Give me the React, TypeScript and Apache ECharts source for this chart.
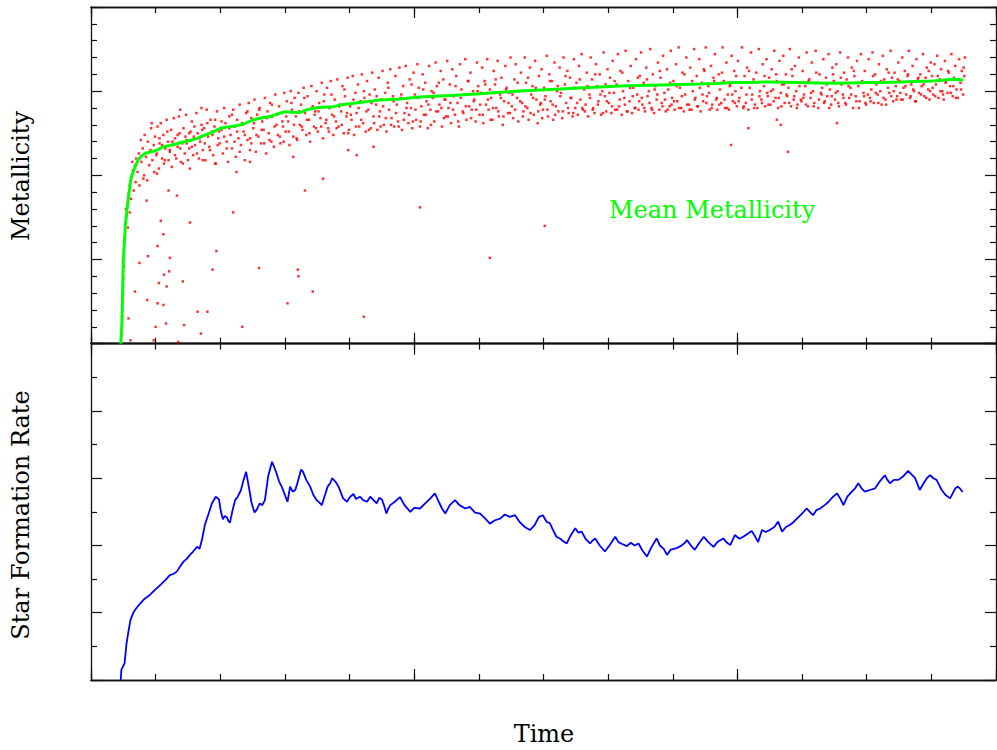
import React, { useEffect, useRef } from "react";
import * as echarts from "echarts";

// ---- data (time units 0..14, metallicity units 0..20, SFR units 0..10) ----
const meanMetallicity: [number, number][] = [[0.46,0],[0.48,1.4],[0.49,3.2],[0.5,5.0],[0.52,6.2],[0.53,7.0],[0.56,8.05],[0.59,9.0],[0.62,9.85],[0.68,10.5],[0.73,10.9],[0.78,11.15],[0.85,11.33],[0.94,11.4],[1.02,11.5],[1.12,11.7],[1.22,11.78],[1.3,11.85],[1.38,11.94],[1.5,12.04],[1.64,12.2],[1.73,12.34],[1.84,12.5],[1.92,12.64],[2.0,12.8],[2.12,12.88],[2.25,12.94],[2.38,13.08],[2.51,13.3],[2.63,13.41],[2.77,13.49],[2.88,13.65],[3.0,13.78],[3.11,13.75],[3.23,13.73],[3.33,13.89],[3.44,13.99],[3.59,14.05],[3.75,14.08],[3.85,14.17],[3.96,14.24],[4.1,14.3],[4.27,14.38],[4.47,14.48],[4.78,14.54],[5.09,14.66],[5.4,14.72],[5.71,14.78],[6.02,14.84],[6.33,14.93],[6.64,15.01],[6.95,15.07],[7.26,15.13],[7.56,15.19],[7.87,15.25],[8.18,15.31],[8.49,15.34],[8.8,15.37],[9.1,15.4],[9.42,15.43],[9.67,15.46],[9.93,15.51],[10.19,15.52],[10.45,15.55],[10.71,15.53],[10.97,15.51],[11.23,15.49],[11.48,15.47],[11.74,15.49],[12.0,15.51],[12.25,15.52],[12.52,15.55],[12.76,15.58],[13.03,15.61],[13.21,15.67],[13.34,15.71],[13.41,15.7],[13.49,15.67]];

const starFormationRate: [number, number][] = [[0.46,0.0],[0.47,0.3],[0.52,0.5],[0.55,1.09],[0.58,1.45],[0.61,1.78],[0.65,1.98],[0.68,2.08],[0.72,2.18],[0.76,2.27],[0.82,2.4],[0.91,2.53],[0.99,2.68],[1.07,2.82],[1.15,2.97],[1.22,3.12],[1.28,3.16],[1.33,3.23],[1.38,3.38],[1.43,3.52],[1.48,3.6],[1.53,3.72],[1.58,3.82],[1.64,3.96],[1.68,3.9],[1.72,4.2],[1.76,4.6],[1.82,4.95],[1.87,5.25],[1.93,5.45],[1.98,5.37],[2.01,5.0],[2.04,4.78],[2.07,4.88],[2.1,4.84],[2.13,4.72],[2.15,4.68],[2.19,5.05],[2.23,5.35],[2.27,5.45],[2.32,5.65],[2.36,5.95],[2.4,6.19],[2.45,5.65],[2.48,5.3],[2.51,5.1],[2.53,4.98],[2.56,5.05],[2.61,5.25],[2.65,5.2],[2.69,5.35],[2.74,6.05],[2.8,6.49],[2.83,6.35],[2.87,6.15],[2.91,5.9],[2.95,5.75],[3.0,5.5],[3.04,5.3],[3.08,5.75],[3.12,5.6],[3.16,5.65],[3.2,5.9],[3.25,6.26],[3.28,6.19],[3.33,5.95],[3.39,5.75],[3.44,5.5],[3.49,5.35],[3.53,5.28],[3.57,5.2],[3.62,5.5],[3.66,5.75],[3.7,5.85],[3.73,6.0],[3.78,5.9],[3.83,5.75],[3.87,5.55],[3.9,5.4],[3.96,5.3],[4.01,5.45],[4.06,5.53],[4.1,5.38],[4.16,5.45],[4.21,5.35],[4.27,5.3],[4.32,5.45],[4.37,5.35],[4.42,5.25],[4.46,5.42],[4.5,5.37],[4.54,5.15],[4.57,4.95],[4.6,5.1],[4.63,5.2],[4.7,5.3],[4.78,5.44],[4.85,5.2],[4.94,5.0],[5.0,5.12],[5.09,5.1],[5.17,5.25],[5.25,5.4],[5.32,5.55],[5.38,5.3],[5.43,5.1],[5.48,4.95],[5.55,5.2],[5.63,5.35],[5.7,5.2],[5.79,5.1],[5.86,5.15],[5.94,4.98],[6.02,4.95],[6.1,4.8],[6.17,4.65],[6.25,4.75],[6.33,4.8],[6.4,4.92],[6.48,4.85],[6.56,4.9],[6.63,4.7],[6.71,4.55],[6.79,4.46],[6.86,4.6],[6.93,4.85],[6.99,4.9],[7.05,4.7],[7.1,4.66],[7.15,4.45],[7.2,4.26],[7.26,4.2],[7.31,4.12],[7.36,4.06],[7.42,4.3],[7.49,4.51],[7.54,4.38],[7.59,4.41],[7.65,4.2],[7.72,4.06],[7.76,4.15],[7.8,4.21],[7.87,4.0],[7.95,3.82],[8.02,4.0],[8.11,4.26],[8.16,4.1],[8.21,4.05],[8.29,3.98],[8.35,4.08],[8.41,4.0],[8.47,4.06],[8.53,3.85],[8.6,3.67],[8.67,3.95],[8.75,4.21],[8.8,4.0],[8.86,3.9],[8.91,3.72],[8.97,3.88],[9.06,3.92],[9.12,3.98],[9.17,4.05],[9.22,4.16],[9.28,4.0],[9.34,3.87],[9.4,4.05],[9.48,4.26],[9.55,4.1],[9.63,3.96],[9.7,4.12],[9.78,4.21],[9.84,4.08],[9.89,4.01],[9.96,4.31],[10.03,4.2],[10.09,4.26],[10.16,4.35],[10.22,4.43],[10.27,4.28],[10.32,4.1],[10.38,4.46],[10.44,4.4],[10.5,4.46],[10.57,4.55],[10.63,4.71],[10.69,4.41],[10.75,4.55],[10.81,4.61],[10.87,4.7],[10.92,4.8],[11.0,4.95],[11.07,5.1],[11.12,5.0],[11.17,4.9],[11.22,5.05],[11.28,5.1],[11.35,5.2],[11.41,5.3],[11.48,5.45],[11.54,5.55],[11.59,5.4],[11.64,5.2],[11.7,5.45],[11.77,5.6],[11.82,5.7],[11.87,5.85],[11.92,5.7],[11.97,5.6],[12.05,5.65],[12.13,5.7],[12.2,5.9],[12.28,6.09],[12.32,5.95],[12.36,5.85],[12.42,5.95],[12.49,5.95],[12.56,6.05],[12.64,6.22],[12.7,6.1],[12.75,6.0],[12.79,5.8],[12.82,5.65],[12.88,5.85],[12.93,6.0],[12.98,6.09],[13.03,6.0],[13.08,5.95],[13.12,5.8],[13.16,5.65],[13.22,5.5],[13.29,5.4],[13.33,5.55],[13.37,5.7],[13.41,5.75],[13.44,5.7],[13.47,5.62],[13.49,5.6]];

// individual stars, first sample
const starMetallicity: [number, number][] = [
[0.47,0.5],[0.48,1.6],[0.49,2.8],[0.5,3.9],[0.5,5.2],[0.52,6.3],[0.53,7.1],[0.55,7.6],[0.56,8.3],[0.58,8.9],[0.6,9.4],[0.62,8.6],[0.63,9.9],[0.65,10.3],[0.66,9.1],[0.68,10.6],[0.7,11.0],[0.54,8.0],[0.57,6.9],[0.51,4.6],[0.6,7.8],[0.64,10.8],[0.69,9.6],
[0.72,10.2],[0.74,11.3],[0.75,9.4],[0.77,12.1],[0.78,10.8],[0.8,11.6],[0.82,10.0],[0.83,12.4],[0.85,11.1],[0.87,9.7],[0.88,12.0],[0.9,10.6],[0.92,11.5],[0.93,12.8],[0.95,10.9],[0.97,11.8],[0.98,10.2],[0.99,12.3],
[1.01,11.2],[1.03,12.9],[1.05,10.4],[1.06,11.9],[1.08,13.1],[1.1,11.0],[1.12,12.4],[1.13,10.7],[1.15,11.6],[1.17,13.3],[1.19,12.0],[1.2,10.9],[1.22,11.4],[1.24,12.7],[1.25,10.5],[1.27,11.8],[1.28,13.4],
[1.3,12.2],[1.32,11.0],[1.34,11.7],[1.36,13.5],[1.37,12.5],[1.39,10.8],[1.41,11.9],[1.43,12.8],[1.45,11.3],[1.47,13.6],[1.48,12.1],[1.5,10.9],[1.52,11.6],[1.54,12.6],[1.56,13.2],[1.58,11.2],[1.59,12.3],
[1.61,11.8],[1.63,13.7],[1.65,12.5],[1.67,11.0],[1.69,12.0],[1.71,13.0],[1.73,11.5],[1.75,12.8],[1.77,10.9],[1.79,13.9],[1.81,12.3],[1.83,11.7],[1.85,13.3],[1.87,12.6],[1.89,11.2],[1.91,12.9],[1.93,10.7],[1.95,13.8],[1.97,12.2],[1.99,11.9],
[2.02,12.7],[2.04,11.3],[2.06,14.0],[2.08,13.1],[2.1,12.0],[2.12,10.8],[2.14,13.5],[2.16,12.4],[2.18,11.6],[2.2,13.9],[2.22,12.9],[2.24,11.1],[2.26,13.3],[2.28,12.2],[2.3,14.2],[2.32,11.8],[2.34,13.0],[2.36,12.6],[2.38,10.9],[2.4,13.7],[2.42,12.1],[2.44,14.3],[2.46,11.5],[2.48,13.4],
[2.51,12.8],[2.53,14.5],[2.55,11.4],[2.57,13.6],[2.59,12.3],[2.61,14.0],[2.63,11.9],[2.65,13.2],[2.67,12.7],[2.69,14.6],[2.71,11.3],[2.73,13.8],[2.75,12.5],[2.77,14.3],[2.79,12.0],[2.81,13.5],[2.83,11.7],[2.85,14.8],[2.87,13.0],[2.89,12.4],[2.91,14.1],[2.93,11.9],[2.95,13.7],[2.97,12.9],[2.99,14.9],
[3.01,12.6],[3.03,14.4],[3.05,13.2],[3.07,11.8],[3.09,15.0],[3.11,13.9],[3.13,12.3],[3.15,14.6],[3.17,13.5],[3.19,12.1],[3.21,14.9],[3.23,13.0],[3.25,14.2],[3.27,12.7],[3.29,15.2],[3.31,13.7],[3.33,12.4],[3.35,14.7],[3.37,13.3],[3.39,12.0],[3.41,15.3],[3.43,14.1],[3.45,12.9],[3.47,13.8],[3.49,15.0],
[3.51,12.6],[3.53,14.3],[3.55,13.4],[3.57,15.5],[3.59,12.2],[3.61,14.8],[3.63,13.1],[3.65,15.2],[3.67,12.8],[3.69,14.0],[3.71,15.6],[3.73,13.6],[3.75,12.4],[3.77,14.5],[3.79,13.2],[3.81,15.7],[3.83,12.9],[3.85,14.2],[3.87,13.8],[3.89,15.3],[3.91,12.5],[3.93,14.7],[3.95,13.5],[3.97,15.8],[3.99,12.7],
[4.01,14.1],[4.03,13.3],[4.05,15.9],[4.07,12.4],[4.09,14.9],[4.11,13.7],[4.13,15.4],[4.15,12.9],[4.17,14.4],[4.19,16.0],[4.21,13.1],[4.23,14.6],[4.25,12.6],[4.27,15.6],[4.29,13.9],[4.31,14.8],[4.33,12.8],[4.35,16.1],[4.37,13.5],[4.39,15.1],[4.41,14.2],[4.43,12.7],[4.45,15.8],[4.47,13.8],[4.49,14.5],
[4.51,16.2],[4.53,13.0],[4.55,14.9],[4.57,12.6],[4.59,15.5],[4.61,13.9],[4.63,16.3],[4.65,13.4],[4.67,14.7],[4.69,12.9],[4.71,15.9],[4.73,14.2],[4.75,13.2],[4.77,16.4],[4.79,14.6],[4.81,12.7],[4.83,15.3],[4.85,13.7],[4.87,16.5],[4.89,14.3],[4.91,13.1],[4.93,15.7],[4.95,14.0],[4.97,12.8],[4.99,16.1],
[5.01,14.8],[5.03,13.3],[5.05,16.6],[5.07,15.2],[5.09,12.9],[5.11,14.1],[5.13,16.0],[5.15,13.6],[5.17,15.5],[5.19,14.4],[5.21,12.8],[5.23,16.5],[5.25,13.9],[5.27,15.0],[5.29,14.6],[5.31,13.2],[5.33,16.7],[5.35,15.3],[5.37,13.8],[5.39,14.2],[5.41,16.2],[5.43,12.9],[5.45,15.7],[5.47,14.5],[5.49,13.5],
[5.51,16.8],[5.53,14.0],[5.55,15.4],[5.57,13.1],[5.59,16.3],[5.61,14.7],[5.63,13.6],[5.65,15.9],[5.67,14.3],[5.69,12.9],[5.71,16.6],[5.73,15.1],[5.75,13.8],[5.77,14.8],[5.79,16.9],[5.81,13.3],[5.83,15.6],[5.85,14.1],[5.87,16.1],[5.89,13.9],[5.91,15.0],[5.93,14.5],[5.95,13.2],[5.97,16.7],[5.99,15.3],
[6.01,13.6],[6.03,14.9],[6.05,16.4],[6.07,13.1],[6.09,15.6],[6.11,14.2],[6.13,16.9],[6.15,13.9],[6.17,15.1],[6.19,14.6],[6.21,13.3],[6.23,16.2],[6.25,15.4],[6.27,14.0],[6.29,16.8],[6.31,13.5],[6.33,14.8],[6.35,15.8],[6.37,13.0],[6.39,14.4],[6.41,16.5],[6.43,15.2],[6.45,13.7],[6.47,14.9],[6.49,17.0],
[6.51,14.1],[6.53,13.4],[6.55,15.7],[6.57,16.6],[6.59,14.6],[6.61,13.2],[6.63,15.0],[6.65,16.1],[6.67,14.3],[6.69,13.8],[6.71,17.0],[6.73,15.5],[6.75,14.0],[6.77,13.3],[6.79,16.4],[6.81,14.8],[6.83,15.3],[6.85,13.6],[6.87,16.8],[6.89,14.5],[6.91,13.1],[6.93,15.9],[6.95,14.2],[6.97,16.3],[6.99,13.9],
[7.01,15.2],[7.03,14.7],[7.05,17.1],[7.07,13.5],[7.09,16.0],[7.11,14.4],[7.13,15.6],[7.15,13.3],[7.17,16.7],[7.19,14.1],[7.21,15.0],[7.23,13.8],[7.25,16.4],[7.27,14.9],[7.29,13.4],[7.31,17.0],[7.33,15.4],[7.35,14.3],[7.37,16.2],[7.39,13.7],[7.41,15.8],[7.43,14.6],[7.45,13.5],[7.47,16.9],[7.49,14.0],
[7.51,15.5],[7.53,13.6],[7.55,16.5],[7.57,14.5],[7.59,17.2],[7.61,13.9],[7.63,15.1],[7.65,14.2],[7.67,16.1],[7.69,13.5],[7.71,14.8],[7.73,17.0],[7.75,15.7],[7.77,14.0],[7.79,13.7],[7.81,16.6],[7.83,15.3],[7.85,14.4],[7.87,16.0],[7.89,13.6],[7.91,15.0],[7.93,17.3],[7.95,14.7],[7.97,13.8],[7.99,16.3],
[8.01,14.3],[8.03,15.8],[8.05,13.7],[8.07,16.8],[8.09,14.9],[8.11,13.9],[8.13,15.4],[8.15,17.2],[8.17,14.1],[8.19,16.2],[8.21,13.6],[8.23,15.0],[8.25,14.6],[8.27,17.4],[8.29,13.8],[8.31,15.6],[8.33,14.4],[8.35,16.5],[8.37,13.7],[8.39,15.2],[8.41,14.0],[8.43,16.9],[8.45,14.8],[8.47,13.9],[8.49,15.9],
[8.51,17.3],[8.53,14.2],[8.55,15.5],[8.57,13.8],[8.59,16.4],[8.61,14.7],[8.63,15.0],[8.65,17.5],[8.67,14.0],[8.69,16.0],[8.71,13.7],[8.73,15.3],[8.75,14.5],[8.77,16.7],[8.79,13.9],[8.81,15.8],[8.83,14.3],[8.85,17.1],[8.87,14.9],[8.89,13.8],[8.91,16.3],[8.93,15.1],[8.95,14.1],[8.97,17.4],[8.99,14.6],
[9.01,15.6],[9.03,13.9],[9.05,16.6],[9.07,14.4],[9.09,17.6],[9.11,15.2],[9.13,14.0],[9.15,16.1],[9.17,13.8],[9.19,14.8],[9.21,17.0],[9.23,15.4],[9.25,14.2],[9.27,16.4],[9.29,13.9],[9.31,15.0],[9.33,17.5],[9.35,14.6],[9.37,15.9],[9.39,14.1],[9.41,16.9],[9.43,13.8],[9.45,15.5],[9.47,14.4],[9.49,16.2],
[9.51,17.6],[9.53,14.7],[9.55,15.3],[9.57,13.9],[9.59,16.5],[9.61,14.2],[9.63,15.8],[9.65,17.2],[9.67,14.5],[9.69,13.9],[9.71,16.0],[9.73,15.1],[9.75,14.3],[9.77,17.6],[9.79,15.6],[9.81,14.0],[9.83,16.7],[9.85,14.8],[9.87,13.9],[9.89,15.4],[9.91,17.1],[9.93,14.4],[9.95,16.2],[9.97,15.0],[9.99,14.1],
[10.01,16.8],[10.03,14.6],[10.05,15.5],[10.07,17.6],[10.09,14.0],[10.11,15.9],[10.13,14.3],[10.15,16.4],[10.17,13.9],[10.19,15.2],[10.21,17.3],[10.23,14.8],[10.25,15.7],[10.27,14.2],[10.29,16.1],[10.31,14.0],[10.33,17.5],[10.35,15.0],[10.37,14.5],[10.39,16.6],[10.41,15.3],[10.43,14.1],[10.45,16.9],[10.47,14.7],[10.49,15.8],
[10.51,14.2],[10.53,16.3],[10.55,15.1],[10.57,17.4],[10.59,14.6],[10.61,15.6],[10.63,14.0],[10.65,16.8],[10.67,14.9],[10.69,15.4],[10.71,17.1],[10.73,14.3],[10.75,16.0],[10.77,14.7],[10.79,15.2],[10.81,17.5],[10.83,14.1],[10.85,15.9],[10.87,14.5],[10.89,16.5],[10.91,15.0],[10.93,14.2],[10.95,17.0],[10.97,15.5],[10.99,14.4],
[11.01,16.2],[11.03,14.8],[11.05,15.3],[11.07,17.3],[11.09,14.1],[11.11,15.7],[11.13,14.6],[11.15,16.7],[11.17,15.0],[11.19,14.3],[11.21,17.4],[11.23,15.5],[11.25,14.0],[11.27,16.0],[11.29,14.9],[11.31,15.2],[11.33,16.9],[11.35,14.4],[11.37,15.8],[11.39,14.7],[11.41,17.2],[11.43,15.1],[11.45,14.2],[11.47,16.4],[11.49,15.6],
[11.51,14.5],[11.53,16.6],[11.55,15.0],[11.57,14.1],[11.59,17.3],[11.61,15.4],[11.63,14.8],[11.65,16.1],[11.67,14.3],[11.69,15.7],[11.71,17.0],[11.73,14.6],[11.75,15.2],[11.77,16.4],[11.79,14.0],[11.81,15.9],[11.83,14.7],[11.85,16.8],[11.87,15.3],[11.89,14.4],[11.91,17.2],[11.93,15.6],[11.95,14.9],[11.97,16.2],[11.99,14.2],
[12.01,15.5],[12.03,16.9],[12.05,14.6],[12.07,15.1],[12.09,17.3],[12.11,14.3],[12.13,16.0],[12.15,15.4],[12.17,14.8],[12.19,16.6],[12.21,15.0],[12.23,14.2],[12.25,17.1],[12.27,15.7],[12.29,14.5],[12.31,16.3],[12.33,15.2],[12.35,14.9],[12.37,17.4],[12.39,15.8],[12.41,14.4],[12.43,16.1],[12.45,15.3],[12.47,14.7],[12.49,16.7],
[12.51,15.6],[12.53,14.5],[12.55,17.0],[12.57,15.2],[12.59,16.2],[12.61,14.8],[12.63,15.9],[12.65,17.4],[12.67,14.6],[12.69,15.4],[12.71,16.5],[12.73,15.0],[12.75,14.4],[12.77,16.9],[12.79,15.7],[12.81,14.9],[12.83,16.0],[12.85,15.3],[12.87,17.2],[12.89,14.7],[12.91,15.8],[12.93,16.4],[12.95,15.1],[12.97,14.5],[12.99,16.7],
[13.01,15.9],[13.03,14.8],[13.05,16.6],[13.07,15.4],[13.09,17.1],[13.11,14.6],[13.13,15.7],[13.15,16.3],[13.17,15.0],[13.19,14.5],[13.21,16.8],[13.23,15.6],[13.25,14.9],[13.27,16.1],[13.29,15.3],[13.31,17.2],[13.33,14.7],[13.35,15.8],[13.37,16.5],[13.39,15.1],[13.41,14.6],[13.43,16.9],[13.45,15.5],[13.47,16.2],[13.49,14.8],[13.51,15.9],[13.52,17.0],
[3.31,9.1],[2.2,7.8],[1.53,7.2],[1.08,7.3],[1.12,6.5],[1.03,5.8],[1.94,5.5],[0.88,5.2],[0.75,4.8],[1.22,5.1],[2.6,4.5],[1.88,4.4],[3.2,4.4],[3.21,4.0],[1.21,4.3],[1.13,4.1],[1.05,3.6],[1.42,3.7],[1.17,3.4],[0.68,3.1],[3.43,3.1],[0.87,2.6],[1.03,2.4],[1.12,2.3],[3.04,2.4],[1.65,1.9],[1.8,1.9],[4.22,1.6],[1.0,1.0],[1.16,1.2],[1.44,1.1],[2.34,1.0],[1.7,0.6],[0.61,0.2],[0.97,0.2],[1.35,0.1],[0.58,1.5],
[5.09,8.1],[7.02,7.0],[6.17,5.1],[3.59,9.8],[10.17,12.8],[9.9,11.8],[10.78,11.4],[10.61,13.3],[10.67,13.0],[11.54,13.1],
[0.86,8.5],[0.81,9.8],[1.02,10.1],[1.2,9.1],[1.33,8.8],[1.53,10.4],[1.73,10.9],[1.92,10.7],[2.25,10.2],[2.46,10.8],[3.13,11.1],[3.98,11.5],[4.11,11.2],[4.37,11.7],[1.38,13.9],[0.94,13.1],[1.71,14.0]
];

// individual stars, second sample (the dense core of the band)
const starMetallicityCore: [number, number][] = [
[1.02,11.3],[1.06,12.2],[1.1,11.8],[1.14,10.9],[1.18,12.6],[1.22,11.5],[1.26,12.0],[1.3,11.2],[1.34,12.4],[1.38,11.6],[1.42,10.7],[1.46,12.3],[1.48,11.9],
[1.52,12.5],[1.56,11.7],[1.6,12.9],[1.64,11.3],[1.68,12.2],[1.72,12.7],[1.76,11.9],[1.8,13.1],[1.84,11.5],[1.88,12.4],[1.92,13.3],[1.96,11.8],[1.98,12.6],
[2.02,13.2],[2.06,12.3],[2.1,11.6],[2.14,12.8],[2.18,13.6],[2.22,12.0],[2.26,12.6],[2.3,11.4],[2.34,13.1],[2.38,12.4],[2.42,13.8],[2.46,12.2],[2.48,11.9],
[2.52,13.1],[2.56,12.4],[2.6,13.9],[2.64,12.7],[2.68,11.9],[2.72,13.4],[2.76,12.1],[2.8,14.2],[2.84,12.9],[2.88,13.6],[2.92,12.3],[2.96,13.2],[2.98,12.0],
[3.02,13.5],[3.06,12.6],[3.1,14.3],[3.14,13.0],[3.18,12.2],[3.22,13.8],[3.26,12.9],[3.3,14.6],[3.34,13.3],[3.38,12.5],[3.42,14.0],[3.46,13.6],[3.48,12.8],
[3.52,13.8],[3.56,12.9],[3.6,14.4],[3.64,13.3],[3.68,12.6],[3.72,14.8],[3.76,13.5],[3.8,12.8],[3.84,14.1],[3.88,13.0],[3.92,15.1],[3.96,13.7],[3.98,12.5],
[4.02,13.6],[4.06,14.5],[4.1,12.9],[4.14,14.0],[4.18,13.3],[4.22,15.0],[4.26,13.8],[4.3,12.7],[4.34,14.3],[4.38,13.1],[4.42,14.7],[4.46,13.5],[4.48,12.9],
[4.52,14.1],[4.56,13.4],[4.6,15.2],[4.64,13.0],[4.68,14.4],[4.72,13.7],[4.76,12.9],[4.8,14.8],[4.84,13.3],[4.88,14.0],[4.92,13.6],[4.96,15.4],[4.98,13.2],
[5.02,13.9],[5.06,14.6],[5.1,13.2],[5.14,15.1],[5.18,13.6],[5.22,14.2],[5.26,13.0],[5.3,14.9],[5.34,13.8],[5.38,15.5],[5.42,14.0],[5.46,13.4],[5.48,14.5],
[5.52,13.5],[5.56,14.3],[5.6,13.9],[5.64,15.3],[5.68,13.2],[5.72,14.6],[5.76,13.7],[5.8,14.1],[5.84,15.6],[5.88,13.4],[5.92,14.4],[5.96,13.9],[5.98,15.0],
[6.02,14.2],[6.06,13.6],[6.1,15.4],[6.14,14.5],[6.18,13.3],[6.22,14.0],[6.26,15.7],[6.3,13.8],[6.34,14.6],[6.38,13.5],[6.42,15.1],[6.46,14.3],[6.48,13.7],
[6.52,14.8],[6.56,13.9],[6.6,15.5],[6.64,14.4],[6.68,13.5],[6.72,14.1],[6.76,15.8],[6.8,13.7],[6.84,14.6],[6.88,15.2],[6.92,13.8],[6.96,14.3],[6.98,13.4],
[7.02,14.5],[7.06,13.9],[7.1,15.6],[7.14,14.2],[7.18,13.6],[7.22,15.3],[7.26,14.7],[7.3,13.8],[7.34,15.9],[7.38,14.0],[7.42,14.6],[7.46,13.7],[7.48,15.2],
[7.52,14.3],[7.56,15.7],[7.6,14.0],[7.64,13.8],[7.68,15.3],[7.72,14.6],[7.76,13.9],[7.8,16.0],[7.84,14.2],[7.88,14.8],[7.92,13.7],[7.96,15.4],[7.98,14.4],
[8.02,14.9],[8.06,14.1],[8.1,15.6],[8.14,13.9],[8.18,14.5],[8.22,16.1],[8.26,14.2],[8.3,13.8],[8.34,15.2],[8.38,14.7],[8.42,14.0],[8.46,15.8],[8.48,14.4],
[8.52,14.6],[8.56,14.0],[8.6,15.7],[8.64,14.3],[8.68,13.9],[8.72,15.1],[8.76,14.8],[8.8,16.2],[8.84,14.1],[8.88,14.5],[8.92,13.9],[8.96,15.5],[8.98,14.2],
[9.02,14.4],[9.06,15.3],[9.1,14.0],[9.14,14.7],[9.18,16.0],[9.22,14.2],[9.26,13.9],[9.3,15.6],[9.34,14.5],[9.38,14.1],[9.42,15.2],[9.46,14.8],[9.48,16.3],
[9.52,14.3],[9.56,14.9],[9.6,14.0],[9.64,15.6],[9.68,14.6],[9.72,14.2],[9.76,16.1],[9.8,14.5],[9.84,14.0],[9.88,15.3],[9.92,14.8],[9.96,14.3],[9.98,15.9],
[10.02,14.4],[10.06,15.2],[10.1,14.1],[10.14,14.8],[10.18,16.2],[10.22,14.5],[10.26,14.0],[10.3,15.5],[10.34,14.7],[10.38,14.3],[10.42,15.9],[10.46,14.9],[10.48,14.2],
[10.52,15.0],[10.56,14.4],[10.6,16.0],[10.64,14.6],[10.68,14.1],[10.72,15.4],[10.76,14.8],[10.8,14.3],[10.84,16.3],[10.88,14.7],[10.92,14.0],[10.96,15.3],[10.98,14.5],
[11.02,14.6],[11.06,14.2],[11.1,15.6],[11.14,14.9],[11.18,14.1],[11.22,16.1],[11.26,14.5],[11.3,14.8],[11.34,14.3],[11.38,15.4],[11.42,14.0],[11.46,14.7],[11.48,16.0],
[11.52,14.9],[11.56,14.3],[11.6,15.8],[11.64,14.6],[11.68,14.2],[11.72,15.3],[11.76,14.8],[11.8,16.2],[11.84,14.4],[11.88,14.0],[11.92,15.5],[11.96,14.7],[11.98,14.3],
[12.02,14.8],[12.06,14.4],[12.1,15.9],[12.14,14.9],[12.18,14.3],[12.22,15.6],[12.26,14.6],[12.3,14.2],[12.34,16.1],[12.38,14.7],[12.42,15.0],[12.46,14.5],[12.48,15.7],
[12.52,14.9],[12.56,14.5],[12.6,15.3],[12.64,16.0],[12.68,14.7],[12.72,15.1],[12.76,14.4],[12.8,15.8],[12.84,14.8],[12.88,15.4],[12.92,14.6],[12.96,16.2],[12.98,15.0],
[13.02,15.2],[13.06,14.7],[13.1,15.9],[13.14,15.0],[13.18,14.8],[13.22,15.5],[13.26,16.2],[13.3,14.9],[13.34,15.3],[13.38,14.6],[13.42,15.7],[13.46,15.1],[13.5,16.4]
];

const timeRange = [0, 14];
const metallicityRange = [0, 20];
const sfrRange = [0, 10];

const FONT = "DejaVu Serif";
const AXIS_COLOR = "#111";

function xAxes(gridIndex: number) {
  const mk = (position: string, interval: number, len: number) => ({
    type: "value",
    gridIndex,
    position,
    min: timeRange[0],
    max: timeRange[1],
    interval,
    axisLine: { show: true, onZero: false, lineStyle: { color: AXIS_COLOR, width: 1.3 } },
    axisTick: { show: true, inside: true, length: len, lineStyle: { color: AXIS_COLOR, width: 1.2 } },
    axisLabel: { show: false },
    splitLine: { show: false },
  });
  return [mk("bottom", 5, 11), mk("bottom", 1, 6), mk("top", 5, 11), mk("top", 1, 6)];
}

function yAxes(gridIndex: number, range: number[], interval: number, split: number) {
  const mk = (position: string) => ({
    type: "value",
    gridIndex,
    position,
    min: range[0],
    max: range[1],
    interval,
    axisLine: { show: true, onZero: false, lineStyle: { color: AXIS_COLOR, width: 1.3 } },
    axisTick: { show: true, inside: true, length: 11, lineStyle: { color: AXIS_COLOR, width: 1.2 } },
    minorTick: { show: true, splitNumber: split, length: 6, lineStyle: { color: AXIS_COLOR, width: 1.2 } },
    axisLabel: { show: false },
    splitLine: { show: false },
    minorSplitLine: { show: false },
  });
  return [mk("left"), mk("right")];
}

export default function App() {
  const ref = useRef<HTMLDivElement>(null);
  useEffect(() => {
    if (!ref.current) return;
    const chart = echarts.init(ref.current, null, { renderer: "svg" });
    const starStyle = {
      type: "scatter",
      xAxisIndex: 0,
      yAxisIndex: 0,
      symbol: "rect",
      symbolSize: 2.5,
      itemStyle: { color: "#ff0000" },
      silent: true,
      z: 2,
    };
    chart.setOption({
      animation: false,
      backgroundColor: "#ffffff",
      grid: [
        { left: 91, top: 7, width: 905, height: 336.7 },
        { left: 91, top: 343.7, width: 905, height: 336.3 },
      ],
      xAxis: [...xAxes(0), ...xAxes(1)],
      yAxis: [...yAxes(0, metallicityRange, 5, 5), ...yAxes(1, sfrRange, 2, 2)],
      series: [
        { ...starStyle, data: starMetallicity },
        { ...starStyle, data: starMetallicityCore },
        {
          type: "line",
          xAxisIndex: 0,
          yAxisIndex: 0,
          data: meanMetallicity,
          showSymbol: false,
          lineStyle: { color: "#00ff00", width: 3 },
          z: 3,
        },
        {
          type: "line",
          xAxisIndex: 4,
          yAxisIndex: 2,
          data: starFormationRate,
          showSymbol: false,
          lineStyle: { color: "#0000ff", width: 1.8 },
          z: 3,
        },
      ],
      graphic: [
        {
          type: "text",
          x: 21,
          y: 176,
          rotation: Math.PI / 2,
          style: { text: "Metallicity", fontFamily: FONT, fontSize: 24, fill: "#000", align: "center", verticalAlign: "middle" },
        },
        {
          type: "text",
          x: 21,
          y: 515,
          rotation: Math.PI / 2,
          style: { text: "Star Formation Rate", fontFamily: FONT, fontSize: 24, fill: "#000", align: "center", verticalAlign: "middle" },
        },
        {
          type: "text",
          x: 544,
          y: 734,
          style: { text: "Time", fontFamily: FONT, fontSize: 24, fill: "#000", align: "center", verticalAlign: "middle" },
        },
        {
          type: "text",
          x: 609,
          y: 210,
          style: { text: "Mean Metallicity", fontFamily: FONT, fontSize: 24, fill: "#00ff00", align: "left", verticalAlign: "middle" },
        },
      ],
    });
    return () => chart.dispose();
  }, []);
  return (
    <div
      ref={ref}
      style={{ position: "fixed", left: 0, top: 0, width: 997, height: 750, background: "#fff" }}
    />
  );
}
